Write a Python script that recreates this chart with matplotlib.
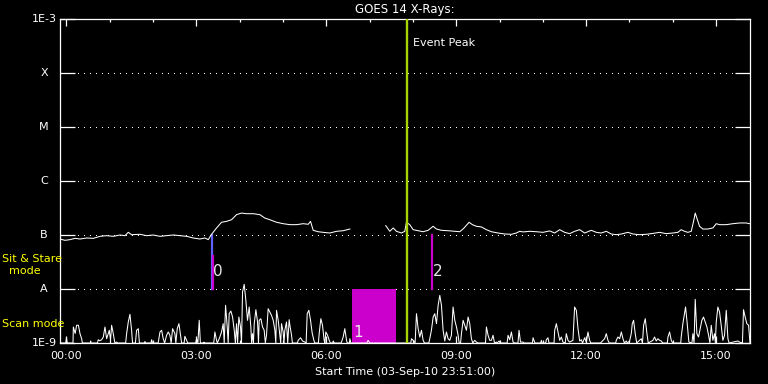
import numpy as np
import matplotlib
matplotlib.use("Agg")
import matplotlib.pyplot as plt
import matplotlib.transforms as mtransforms

# time axis: minutes after the start time (03-Sep-10 23:51:00)
start_label = "Start Time (03-Sep-10 23:51:00)"
hour_labels = ["00:00", "03:00", "06:00", "09:00", "12:00", "15:00"]

# GOES long channel, flux in units of 1e-7 W/m^2 (NaN = data gap)
goes_min = [0, 6.9, 13.8, 20.8, 27.7, 36.9, 46.2, 55.4, 64.6, 73.8, 83.1, 90, 94.6,
            99.2, 110.8, 120, 129.2, 138.5, 147.7, 156.9, 166.1, 175.4, 184.6, 193.8,
            200.8, 205.4, 210, 216.9, 223.8, 230.8, 237.7, 244.6, 251.5, 258.4, 267.7,
            276.9, 283.8, 290.7, 300, 309.2, 318.5, 327.7, 337, 343.9, 347.1, 350.8,
            357.7, 364.7, 373.9, 383.1, 392.3, 401.6, 440,
            451.4, 456.9, 461.6, 466.2, 473.1, 477.7, 480, 484.6, 489.3, 496.2, 503.1,
            510, 517, 521.6, 528.5, 537.7, 547, 553.9, 559.4, 566.8, 571.4, 576.9,
            583.9, 590.8, 597.7, 606.9, 616.2, 625.4, 632.3, 636.9, 641.5, 650.7, 660,
            669.2, 678.4, 685.4, 692.3, 699.2, 706.1, 713, 720, 726.9, 736.1, 743.1,
            750, 756.9, 763.8, 770.7, 777.7, 786.9, 793.8, 803, 812.3, 821.5, 830.7,
            840, 849.2, 856.1, 860.7, 865.3, 869.9, 874.6, 878.3, 880.1, 882.4, 886.1,
            890.7, 897.6, 904.6, 909.2, 913.8, 923.1, 932.3, 941.5, 950.7, 955.4]
goes_flux = [0.843, 0.797, 0.82, 0.867, 0.843, 0.88, 0.867, 0.945, 0.972, 0.945, 1.0,
             0.972, 1.12, 1.014, 1.03, 0.972, 1.0, 0.945, 0.972, 1.0, 0.972, 0.945, 0.88,
             0.843, 0.88, 0.82, 1.03, 1.35, 1.72, 1.79, 1.92, 2.38, 2.55, 2.48, 2.48,
             2.38, 2.06, 1.92, 1.72, 1.62, 1.554, 1.554, 1.62, 1.58, 1.79, 1.22, 1.15,
             1.12, 1.089, 1.17, 1.20, 1.29, np.nan,
             1.49, 1.17, 1.35, 1.17, 1.089, 1.17, 1.72, 1.554, 1.255, 1.20, 1.15, 1.22,
             1.45, 1.29, 1.22, 1.20, 1.17, 1.15, 1.33, 1.72, 1.554, 1.45, 1.41, 1.255,
             1.15, 1.089, 1.043, 1.03, 1.089, 1.17, 1.14, 1.17, 1.15, 1.12, 1.19, 1.089,
             1.255, 1.12, 1.06, 1.17, 1.255, 1.089, 1.22, 1.12, 1.089, 1.17, 1.043,
             1.014, 1.043, 1.12, 1.043, 1.014, 1.03, 1.07, 1.12, 1.06, 1.089, 1.12,
             1.255, 1.17, 1.12, 1.17, 1.92, 2.55, 2.06, 1.45, 1.29, 1.29, 1.35, 1.62,
             1.554, 1.554, 1.62, 1.67, 1.67, 1.62]

# scan mode trace, flux in units of 1e-9 W/m^2
scan_min = [0, 8, 9, 10, 18, 18.5, 21, 23, 25.5, 27.7, 30, 31, 42, 42.5, 43, 52, 53, 55,
            57.7, 60, 62.3, 64.6, 68.3, 70, 71.5, 73.8, 76, 78.5, 80, 91, 92.3, 94.6,
            96.9, 99.2, 100.5, 104.5, 106.1, 108.5, 110, 117, 117.7, 118.5, 126, 127,
            128, 136, 138.5, 140.8, 143, 145, 147.7, 150, 152.3, 154, 156, 159.2, 160.5,
            162.4, 164.8, 167, 168.5, 172, 173, 175.4, 177, 188, 189.2, 191, 192.9,
            194.5, 199, 199.4, 200, 213, 214.6, 216.9, 218, 221.5, 223.8, 226.1, 227.5,
            229.4, 231.7, 233, 234.4, 236.7, 239.1, 241.4, 243, 244.6, 246, 247.8,
            250.1, 251.5, 252.9, 255.2, 257.5, 259.8, 262.1, 264.4, 265.5, 266.7, 268,
            269.1, 271.4, 273.7, 275, 276, 278.3, 280.6, 282.9, 284.5, 286.1, 288.4,
            290.7, 293, 295.4, 297.7, 299, 300, 302.3, 304.6, 305.8, 306.9, 309.2,
            310.3, 311.5, 313.8, 315.5, 317.5,
            318.5, 320.8, 322, 329, 330, 333.3, 336, 339.3, 341, 342.5, 344.8, 347.1,
            349.4, 351.7, 353, 358, 359.1, 361.4, 363.7, 366, 367, 368.3, 370.7, 373,
            374.5, 378, 378.5, 380, 389, 390, 392.3, 394.6, 397, 398, 401, 401.6, 403,
            425, 427, 429, 486, 487, 490.2, 492, 493.9, 496.2, 498.5, 500.8, 503.1, 505,
            511, 512.3, 514.6, 517, 519.3, 521.6, 523.9, 526.2, 528.5, 530.8, 533.1,
            535.4, 537.7, 540, 542.3, 544.6, 547, 549.3, 551.6, 553, 555, 556.2, 558.5,
            560.8, 563.1, 565.4, 567.7, 570, 572, 574.6, 577, 579, 589.5, 590.8, 593.1,
            595.4, 597.7, 600, 602, 604.6, 606, 608.3, 610, 619.5, 620.8, 623.1, 625.4,
            627.7, 630, 634.5, 636,
            638, 641.5, 643, 654.5, 655.4, 656.7, 658, 666, 666.9, 668, 673, 673.8,
            676.1, 677.5, 684.5, 685.4, 687.7, 690, 692.3, 694.6, 696.9, 700, 701.5,
            703.8, 706.1, 710.7, 713, 715.4, 717.7, 720, 722.3, 724, 726.9, 729.2, 731.5,
            733.8, 735.5, 749, 750, 754.6, 756.9, 759.2, 761, 770, 770.7, 773, 775.4,
            777.7, 780, 782, 784.6, 786, 789.2, 791.5, 792.9, 794.7, 797, 799, 803,
            805.3, 807, 808.6, 810.9, 813.2, 815, 821.5, 823.8, 826.1, 828.4, 830.7,
            833, 835, 841.5, 842.3, 844.6, 846.9, 849, 860, 860.7, 863, 865.3, 866.7,
            869, 871.3, 875.5, 876.9, 878.5, 880.1, 882.4, 884.7, 887, 889.3, 891.6,
            894, 896.3, 898.6, 900.5, 902.3, 904.6, 906.9, 908, 909.2, 911.5, 913.8,
            916.1, 918.4, 920.7, 923.1, 925.4, 927, 939.2, 941.5, 945.5, 947, 949.3,
            951.6, 954, 956]
scan_flux = [1.0, 1.0, 1.25, 1.0, 1.0, 1.98, 1.5, 2.13, 2.13, 1.49, 1.2, 1.0, 1.0, 1.09,
             1.0, 1.0, 1.15, 1.1, 1.15, 1.29, 1.98, 1.2, 1.72, 1.1, 2.13, 1.49, 1.0, 1.04,
             1.0, 1.0, 1.49, 2.45, 3.40, 1.72, 1.0, 1.0, 1.72, 1.84, 1.0, 1.0, 1.07, 1.0,
             1.0, 1.15, 1.0, 1.0, 1.60, 1.72, 1.2, 1.0, 1.39, 1.60, 1.39, 1.0, 1.84, 1.49,
             1.0, 1.84, 2.28, 1.39, 1.0, 1.0, 1.33, 1.12, 1.0, 1.0, 1.2, 1.0, 2.63, 1.0,
             1.0, 1.04, 1.0, 1.0, 1.60, 1.12, 1.0, 1.29, 1.60, 2.28, 1.0, 4.98, 1.98, 1.0,
             3.49, 3.91, 3.03, 1.72, 1.0, 2.28, 1.0, 3.03, 1.98, 1.0, 8.80, 12.2, 6.17,
             2.63, 4.64, 1.98, 1.0, 1.49, 1.0, 2.28, 4.14, 2.45, 1.0, 2.63, 2.82, 1.98,
             1.72, 1.0, 1.39, 4.32, 3.75, 3.26, 2.63, 1.72, 1.0, 4.03, 2.63, 1.39, 1.0,
             2.28, 1.60, 1.0, 1.72, 2.45, 1.0, 2.70,
             2.13, 1.39, 1.0, 1.0, 1.12, 1.25, 1.09, 1.04, 1.0, 3.49, 4.03, 2.63, 1.53,
             1.12, 1.0, 1.0, 1.49, 2.82, 2.13, 1.12, 1.0, 1.60, 1.39, 1.12, 1.0, 1.0,
             1.09, 1.0, 1.0, 1.04, 1.29, 1.84, 1.12, 1.0, 1.0, 1.2, 1.0, 1.0, 1.12, 1.0,
             1.0, 1.2, 1.09, 1.0, 3.49, 1.84, 1.29, 1.72, 1.12, 1.0, 1.0, 1.2, 1.72, 3.03,
             3.49, 2.28, 4.98, 7.63, 4.98, 1.72, 1.09, 1.60, 1.2, 1.12, 1.39, 4.64, 2.63,
             1.98, 1.39, 1.0, 1.0, 1.49, 2.63, 2.13, 1.72, 3.03, 2.28, 1.2, 1.0, 1.12,
             1.04, 1.0, 1.0, 1.98, 1.39, 1.12, 1.12, 1.39, 1.0, 1.04, 1.0, 1.09, 1.0, 1.0,
             1.39, 1.15, 1.60, 1.04, 1.0, 1.0, 1.72,
             1.04, 1.04, 1.0, 1.0, 1.25, 1.12, 1.0, 1.0, 1.12, 1.0, 1.0, 1.15, 1.25, 1.0,
             1.0, 1.72, 2.28, 1.60, 1.12, 1.29, 1.04, 1.0, 1.49, 1.12, 1.04, 1.12, 4.64,
             4.03, 1.84, 1.09, 1.15, 1.0, 1.25, 1.04, 1.60, 1.12, 1.0, 1.0, 1.04, 1.2,
             1.49, 1.12, 1.0, 1.0, 1.12, 1.29, 1.2, 1.60, 1.2, 1.0, 1.09, 1.0, 1.09, 1.49,
             2.28, 2.63, 1.49, 1.0, 1.12, 1.2, 1.0, 2.13, 2.82, 1.49, 1.0, 1.12, 1.29,
             1.09, 1.2, 1.12, 1.09, 1.0, 1.0, 1.29, 1.60, 1.12, 1.0, 1.0, 1.29, 2.28,
             3.49, 4.64, 2.28, 1.04, 1.0, 1.49, 1.0, 6.44, 1.49, 1.29, 1.84, 2.63, 3.03,
             2.45, 1.98, 1.39, 1.0, 2.13, 1.12, 1.49, 1.0, 2.45, 4.64, 3.75, 2.13, 1.12,
             1.39, 4.03, 1.2, 1.0, 1.09, 1.04, 1.0, 4.14, 3.03, 2.28, 2.13, 1.0]

# flare class levels (W/m^2)
class_names = ["1E-9", "A", "B", "C", "M", "X", "1E-3"]
class_levels = [1e-9, 1e-8, 1e-7, 1e-6, 1e-5, 1e-4, 1e-3]

# observation segments (minutes after start)
seg_names = ["0", "1", "2"]
seg_start = [210.5, 404.3, 515]
seg_end = [210.5, 466.2, 515]
seg_top = [4.1e-8, 1e-8, 1e-7]
stare_min = 210
peak_min = 481.4

fig = plt.figure(figsize=(7.68, 3.84), dpi=100, facecolor="black")
ax = fig.add_axes([60/768, 41/384, 690/768, 324/384], facecolor="black")
ax.set_yscale("log")
ax.set_xlim(0, 956)
ax.set_ylim(1e-9, 1e-3)

# dotted class levels
for lev in class_levels[1:-1]:
    ax.axhline(lev, xmin=0.026, xmax=0.975, color="white", lw=0.6,
               linestyle=(0, (1.2, 7)), antialiased=False)

# observation segments
for name, t0, t1, top in zip(seg_names, seg_start, seg_end, seg_top):
    if t1 > t0:
        ax.fill_between([t0, t1], 1e-9, top, color="#cc00cc", lw=0, zorder=2)
        ax.text(t0 + 1.5, 1.55e-9, name, color="#e8e8e8", fontsize=11,
                ha="left", va="center", zorder=5)
    else:
        if name == "0":
            ax.plot([stare_min, stare_min], [1e-8, 1e-7], color="#6060ff", lw=1.6,
                    zorder=3)
        ax.plot([t0 + 0.8, t0 + 0.8], [1e-8, top], color="#cc00cc", lw=1.6, zorder=3)
        ax.text(t0 + 1.5, 2.1e-8, name, color="#e8e8e8", fontsize=11,
                ha="left", va="center", zorder=5)

ax.plot(goes_min, np.array(goes_flux) * 1e-7, color="white", lw=0.75, zorder=4)
ax.plot(scan_min, np.array(scan_flux) * 1e-9, color="white", lw=0.75, zorder=4)

ax.axvline(peak_min, color="#a8d400", lw=1.7, zorder=6)
ax.text(peak_min + 7, 10 ** -3.45, "Event Peak", color="white", fontsize=8,
        ha="left", va="center")

# axes styling
for sp in ax.spines.values():
    sp.set_color("white")
    sp.set_linewidth(0.9)

ax.set_xticks([9 + 180 * k for k in range(len(hour_labels))])
ax.set_xticklabels(hour_labels)
ax.set_xticks([9 + 60 * k for k in range(16)], minor=True)
ax.tick_params(axis="x", which="major", direction="in", length=4.8, width=0.9,
               color="white", labelcolor="white", labelsize=8, top=True, pad=6)
ax.tick_params(axis="x", which="minor", direction="in", length=2.4, width=0.9,
               color="white", top=True)

ax.set_yticks(class_levels)
ax.set_yticklabels([])
ax.yaxis.set_minor_locator(matplotlib.ticker.NullLocator())
ax.tick_params(axis="y", which="major", direction="in", length=10.8, width=0.9,
               color="white", left=True, right=True)
trans = mtransforms.blended_transform_factory(ax.transAxes, ax.transData)
for name, lev in zip(class_names, class_levels):
    if name.startswith("1E"):
        ax.text(-0.005, lev, name, color="white", fontsize=8, ha="right",
                va="center", transform=trans)
    else:
        ax.text(-0.023, lev, name, color="white", fontsize=8, ha="center",
                va="center", transform=trans)

ax.set_xlabel(start_label, color="white", fontsize=8, labelpad=4)
ax.set_title("GOES 14 X-Rays:", color="white", fontsize=8.5, pad=4)

fig.text(2/768, 1 - 259/384, "Sit & Stare", color="yellow", fontsize=8,
         ha="left", va="center")
fig.text(25/768, 1 - 271/384, "mode", color="yellow", fontsize=8,
         ha="center", va="center")
fig.text(2/768, 1 - 324/384, "Scan mode", color="yellow", fontsize=8,
         ha="left", va="center")

fig.savefig("out.png", dpi=100, facecolor="black")
